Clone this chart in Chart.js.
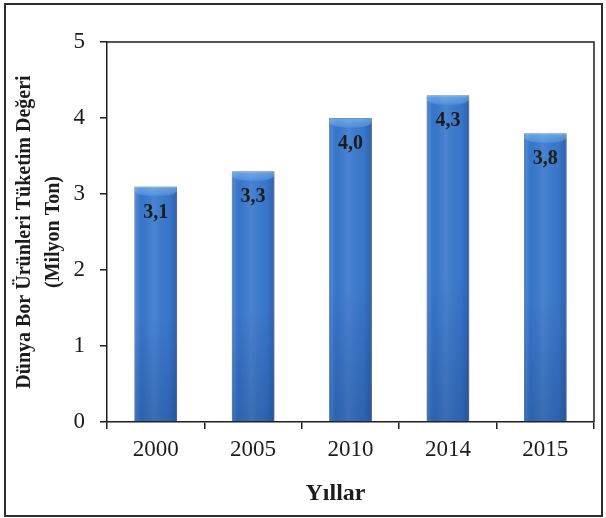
<!DOCTYPE html>
<html>
<head>
<meta charset="utf-8">
<script src="https://cdn.jsdelivr.net/npm/chart.js@4/dist/chart.umd.min.js"></script>
<style>
  html, body { margin: 0; padding: 0; background: #fff; }
  #wrap { position: relative; width: 606px; height: 518px; }
  #frame { position: absolute; left: 4px; top: 3px; width: 595px; height: 510px; border: 2px solid #2e2e2e; pointer-events: none; }
  canvas { position: absolute; left: 0; top: 0; }
</style>
</head>
<body>
<div id="wrap">
  <canvas id="c" width="606" height="518"></canvas>
  <div id="frame"></div>
</div>
<script>
// Yıllara göre dünya bor ürünleri tüketimi (milyon ton)
const years = ['2000', '2005', '2010', '2014', '2015'];
const consumption = [3.1, 3.3, 4.0, 4.3, 3.8];
const yTicks = [0, 1, 2, 3, 4, 5];
const xTitle = 'Yıllar';
const yTitle = ['Dünya Bor Ürünleri Tüketim Değeri', '(Milyon Ton)'];

const serif = "'Liberation Serif', 'Times New Roman', serif";

// Silindir görünümlü çubuk gölgelendirmesi, çerçeve, değer etiketleri
const decor = {
  id: 'decor',
  beforeDatasetsDraw(chart) {
    const ctx = chart.ctx;
    ctx.save();
    ctx.shadowColor = 'rgba(0,0,0,0.28)';
    ctx.shadowBlur = 5;
    ctx.shadowOffsetX = 2;
    ctx.shadowOffsetY = 1;
  },
  afterDatasetsDraw(chart) {
    const ctx = chart.ctx;
    ctx.restore();
    const meta = chart.getDatasetMeta(0);
    meta.data.forEach((bar, i) => {
      const p = bar.getProps(['x', 'y', 'base', 'width'], true);
      const l = p.x - p.width / 2, r = p.x + p.width / 2;
      const t = p.y, b = p.base, h = b - t;
      ctx.save();
      ctx.beginPath();
      ctx.rect(l + 0.5, t + 0.5, r - l - 1, h - 1);
      ctx.clip();
      // yatay: kenarlar hafif koyu, orta açık
      const gh = ctx.createLinearGradient(l, 0, r, 0);
      gh.addColorStop(0, 'rgba(20,50,110,0.30)');
      gh.addColorStop(0.06, 'rgba(150,200,255,0.18)');
      gh.addColorStop(0.18, 'rgba(20,50,110,0.05)');
      gh.addColorStop(0.45, 'rgba(255,255,255,0.08)');
      gh.addColorStop(0.8, 'rgba(20,50,110,0.04)');
      gh.addColorStop(1, 'rgba(20,50,110,0.32)');
      ctx.fillStyle = gh;
      ctx.fillRect(l, t, r - l, h);
      // dikey: alt kısım koyulaşır
      const gv = ctx.createLinearGradient(0, t, 0, b);
      gv.addColorStop(0, 'rgba(0,20,70,0.0)');
      gv.addColorStop(0.55, 'rgba(0,20,70,0.0)');
      gv.addColorStop(1, 'rgba(0,20,70,0.20)');
      ctx.fillStyle = gv;
      ctx.fillRect(l, t, r - l, h);
      // üst kapak parlaklığı
      const gc = ctx.createLinearGradient(0, t, 0, t + 11);
      gc.addColorStop(0, 'rgba(150,205,255,0.55)');
      gc.addColorStop(0.7, 'rgba(130,190,250,0.35)');
      gc.addColorStop(1, 'rgba(130,190,250,0.0)');
      ctx.fillStyle = gc;
      ctx.beginPath();
      ctx.moveTo(l, t);
      ctx.lineTo(r, t);
      ctx.lineTo(r, t + 5);
      ctx.quadraticCurveTo(r - 5, t + 10, p.x, t + 10);
      ctx.quadraticCurveTo(l + 5, t + 10, l, t + 5);
      ctx.closePath();
      ctx.fill();
      ctx.restore();
      // değer etiketi
      ctx.save();
      ctx.font = 'bold 20px ' + serif;
      ctx.fillStyle = '#1c1c1c';
      ctx.textAlign = 'center';
      ctx.textBaseline = 'middle';
      ctx.fillText(consumption[i].toFixed(1).replace('.', ','), p.x, t + 26);
      ctx.restore();
    });
  },
  afterDraw(chart) {
    const ctx = chart.ctx;
    const a = chart.chartArea;
    ctx.save();
    ctx.strokeStyle = '#1e1e1e';
    ctx.lineWidth = 1.5;
    ctx.beginPath();
    ctx.moveTo(a.left, a.top);
    ctx.lineTo(a.right, a.top);
    ctx.lineTo(a.right, a.bottom);
    ctx.stroke();
    // x ekseni başlığı
    ctx.font = 'bold 24px ' + serif;
    ctx.fillStyle = '#1c1c1c';
    ctx.textAlign = 'center';
    ctx.textBaseline = 'middle';
    ctx.fillText(xTitle, (a.left + a.right) / 2 - 15, 494);
    ctx.restore();
  }
};

new Chart(document.getElementById('c'), {
  type: 'bar',
  data: {
    labels: years,
    datasets: [{
      data: consumption,
      backgroundColor: '#3a79cd',
      borderColor: '#6d87ad',
      borderWidth: 1,
      categoryPercentage: 1,
      barPercentage: 0.44
    }]
  },
  options: {
    responsive: false,
    animation: false,
    devicePixelRatio: 1,
    layout: { padding: { top: 42, right: 12, left: 0, bottom: 0 } },
    plugins: { legend: { display: false }, tooltip: { enabled: false } },
    scales: {
      x: {
        grid: { display: true, drawOnChartArea: false, drawTicks: true, tickLength: 7, color: '#1e1e1e', lineWidth: 1.5, offset: true },
        border: { display: true, color: '#1e1e1e', width: 1.5 },
        ticks: { font: { family: serif, size: 23 }, color: '#1c1c1c', padding: 7, maxRotation: 0 },
        afterFit(s) { s.height = 96; }
      },
      y: {
        min: 0, max: 5,
        afterBuildTicks(s) { s.ticks = yTicks.map(v => ({ value: v })); },
        grid: { display: true, drawOnChartArea: false, drawTicks: true, tickLength: 7, color: '#1e1e1e', lineWidth: 1.5 },
        border: { display: true, color: '#1e1e1e', width: 1.5 },
        ticks: { font: { family: serif, size: 23 }, color: '#1c1c1c', padding: 15 },
        title: {
          display: true,
          text: yTitle,
          font: { family: serif, size: 20, weight: 'bold', lineHeight: 1.42 },
          color: '#1c1c1c',
          padding: { top: 11, bottom: 0 }
        },
        afterFit(s) { s.width = 107; }
      }
    }
  },
  plugins: [decor]
});
</script>
</body>
</html>
